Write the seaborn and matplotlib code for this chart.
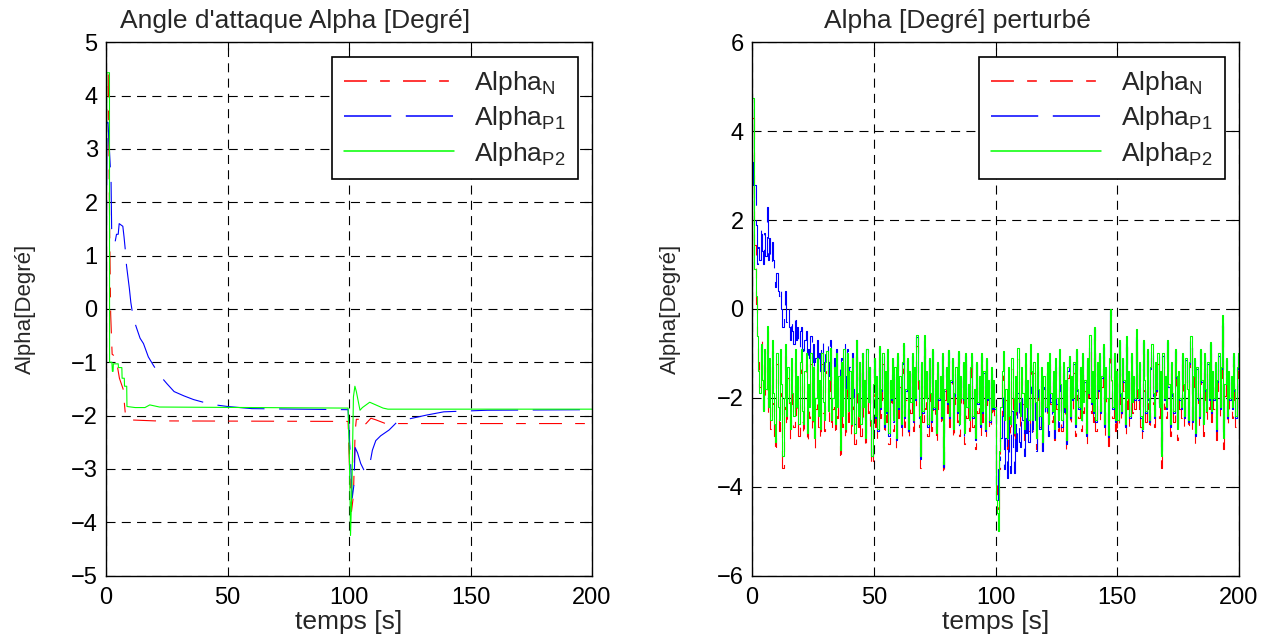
import numpy as np
import pandas as pd
import matplotlib
matplotlib.use("Agg")
import matplotlib.pyplot as plt
import seaborn as sns

# ---- left panel: nominal responses (time [s], alpha [deg]) ----
t_n = [0, 0.3, 0.9, 1.5, 1.9, 2.5, 4.0, 5.5, 7.0, 8.0, 9.0, 20, 99.6, 100.2, 101.0,
       101.8, 102.5, 103.0, 105.0, 105.5, 107.0, 109.0, 111.0, 115.0, 200]
alpha_n = [0, 4.4, 4.4, 1.4, -0.1, -0.85, -0.9, -1.3, -1.5, -2.0, -2.08, -2.1, -2.11, -3.0,
           -3.8, -3.5, -2.3, -2.07, -2.07, -2.2, -2.15, -2.05, -2.08, -2.15, -2.15]

t_p1 = [0, 0.4, 0.8, 2.06, 2.3, 3.7, 4.3, 5.0, 5.4, 6.9, 7.4, 8.0, 8.4, 9.6, 10.2, 11.2,
        12.5, 14.0, 15.4, 17.4, 19.5, 22.2, 25, 28, 32, 36, 40, 45, 50, 60, 99.6, 100.4,
        101.3, 102.0, 102.5, 103.5, 104.8, 106.2, 108.2, 109.6, 111.0, 113.0, 116.5, 120.0,
        126, 132, 139, 157, 200]
alpha_p1 = [0, 3.5, 3.5, 2.39, 1.5, 1.25, 1.4, 1.4, 1.6, 1.55, 1.35, 1.07, 0.82, 0.38, 0.12,
            -0.17, -0.35, -0.55, -0.65, -0.9, -1.06, -1.25, -1.4, -1.55, -1.63, -1.7, -1.75,
            -1.8, -1.83, -1.87, -1.89, -2.65, -3.55, -3.3, -2.6, -2.7, -2.9, -3.03, -3.0,
            -2.65, -2.47, -2.38, -2.27, -2.11, -2.05, -1.99, -1.93, -1.9, -1.89]

t_p2 = [0, 0.3, 1.4, 1.45, 2.4, 2.6, 2.9, 3.0, 5.0, 5.1, 6.5, 6.6, 7.5, 7.6, 8.5, 8.6, 12,
        16, 18, 22, 99.6, 100.2, 100.6, 101.2, 101.8, 102.4, 103.0, 104.5, 105.5, 107.0,
        108.5, 110.0, 112.0, 114.0, 116.0, 200]
alpha_p2 = [0, 4.43, 4.43, -1.0, -1.0, -1.17, -1.17, -1.03, -1.03, -1.1, -1.1, -1.3, -1.3,
            -1.45, -1.45, -1.83, -1.85, -1.85, -1.8, -1.84, -1.86, -2.9, -4.25, -3.3, -1.65,
            -1.45, -1.55, -1.9, -1.85, -1.8, -1.75, -1.78, -1.82, -1.86, -1.88, -1.88]

# ---- right panel: perturbed responses, one sample every 0.5 s (t = 0..200) ----
dt_pert = 0.5

alpha_n_pert = [
    4.3, 4.3, 1.45, 0.1, -0.65, -1.2, -1.75, -0.65, -1.6, -2.4, -0.95, -2.0, -0.5, -2.4, -1.3, -2.7, -0.95, -2.15, -2.85, -3.25,
    -1.25, -2.45, -2.75, -1.15, -1.95, -3.57, -2.25, -1.05, -2.65, -1.55, -2.35, -2.95, -1.35, -2.15, -2.65, -1.15, -2.45, -1.75, -2.85, -1.45,
    -1.15, -2.55, -2.85, -1.65, -1.25, -3.05, -1.95, -2.45, -1.25, -2.75, -1.55, -3.15, -2.25, -1.35, -2.65, -1.85, -2.95, -1.25, -2.35, -2.75,
    -1.45, -1.2, -2.55, -1.85, -1.13, -2.75, -2.25, -1.55, -2.85, -1.25, -2.45, -1.75, -3.42, -1.45, -2.65, -1.15, -2.95, -2.05, -1.25, -2.55,
    -1.65, -2.85, -1.35, -2.25, -3.05, -0.95, -2.15, -2.65, -1.45, -2.85, -1.25, -2.45, -1.85, -3.15, -1.15, -2.35, -1.55, -2.75, -3.55, -1.95,
    -1.35, -2.65, -1.75, -2.95, -1.09, -2.45, -2.05, -1.25, -2.85, -1.65, -2.55, -1.15, -3.05, -1.85, -2.25, -1.35, -2.75, -1.55, -3.15, -1.25,
    -2.45, -1.75, -2.85, -1.45, -1.02, -2.65, -2.05, -1.35, -2.95, -1.65, -2.35, -1.25, -2.75, -1.55, -2.25, -0.83, -1.85, -2.65, -3.57, -1.45,
    -2.55, -0.83, -2.25, -1.65, -2.85, -1.35, -2.15, -2.75, -1.15, -2.45, -1.85, -3.05, -1.45, -2.25, -1.75, -2.65, -1.25, -3.75, -2.05, -1.55,
    -2.35, -1.17, -2.65, -1.85, -1.35, -2.95, -2.15, -1.55, -2.55, -1.2, -2.85, -1.75, -2.25, -1.45, -3.05, -1.25, -2.45, -1.95, -2.75, -1.55,
    -1.25, -2.65, -2.05, -3.15, -1.45, -2.35, -1.75, -2.85, -1.25, -2.55, -1.65, -2.95, -1.35, -2.25, -1.85, -2.75, -1.55, -2.45, -1.85, -2.45,
    -3.9, -4.2, -4.5, -3.6, -2.5, -1.6, -1.2, -2.75, -2.05, -3.15, -1.55, -2.65, -2.85, -1.35, -2.25, -3.05, -1.75, -2.55, -1.12, -2.35,
    -2.65, -1.55, -2.15, -2.95, -1.25, -2.45, -1.85, -2.75, -1.05, -1.65, -2.75, -1.45, -2.35, -3.15, -1.25, -2.05, -2.65, -1.55, -3.25, -1.75,
    -1.75, -2.45, -1.45, -2.85, -1.25, -2.15, -2.55, -1.65, -2.95, -1.35, -2.25, -2.75, -1.15, -1.95, -2.75, -1.45, -2.45, -1.85, -3.2, -1.55,
    -1.32, -2.65, -1.75, -2.25, -1.45, -2.85, -1.15, -2.05, -2.45, -1.55, -2.75, -1.25, -2.35, -1.85, -3.05, -1.35, -2.15, -0.83, -2.35, -1.65,
    -2.55, -0.65, -2.75, -1.45, -2.05, -1.25, -2.55, -1.75, -1.05, -2.85, -1.55, -2.25, -3.08, -1.35, -0.25, -1.85, -2.45, -1.25, -2.75, -1.65,
    -2.75, -0.95, -2.15, -2.55, -1.35, -1.85, -2.85, -0.85, -2.25, -1.65, -2.65, -1.25, -2.35, -1.75, -2.25, -0.7, -2.05, -2.25, -1.45, -2.65,
    -2.95, -0.95, -1.85, -2.55, -1.15, -2.25, -2.75, -1.55, -1.05, -2.15, -2.65, -1.45, -2.05, -1.25, -2.45, -1.65, -3.57, -1.25, -2.25, -1.75,
    -2.45, -0.95, -1.95, -2.85, -1.45, -2.15, -2.55, -1.15, -1.75, -2.95, -1.65, -2.25, -2.45, -1.25, -1.95, -2.65, -1.35, -2.05, -2.75, -1.45,
    -0.85, -2.75, -1.75, -1.35, -3.05, -1.55, -2.25, -2.65, -1.15, -1.85, -2.85, -1.25, -2.05, -2.55, -1.45, -2.25, -1.0, -2.55, -1.65, -2.25,
    -1.45, -2.95, -1.85, -1.25, -2.45, -1.55, -0.38, -3.15, -1.95, -1.35, -2.65, -1.65, -2.25, -1.75, -2.45, -1.25, -2.05, -2.65, -1.55, -1.25,
    -2.05]

alpha_p1_pert = [
    3.3, 2.8, 2.8, 1.9, 1.0, 1.4, 1.1, 1.9, 1.3, 1.0, 1.7, 1.2, 2.3, 1.1, 1.6, 1.0, 1.5, 1.1, 0.8, 0.5,
    0.8, 0.4, 0.3, 0.5, 0.0, -0.4, -0.1, 0.4, -0.3, 0.0, -0.4, -0.7, -0.2, -0.5, -0.8, -0.1, -0.7, -0.4, -0.9, -0.5,
    -0.4, -0.9, -1.1, -0.7, -0.5, -1.2, -0.9, -1.1, -0.6, -1.2, -0.8, -1.4, -1.1, -0.7, -1.3, -1.0, -1.4, -0.7, -1.2, -1.4,
    -1.0, -0.8, -1.5, -1.2, -0.7, -1.6, -1.4, -1.1, -1.7, -0.9, -1.6, -1.3, -2.4, -1.1, -1.8, -0.8, -2.0, -1.5, -0.9, -1.8,
    -1.3, -2.3, -1.0, -1.8, -2.6, -0.7, -1.8, -2.3, -1.2, -2.5, -1.0, -2.2, -1.6, -2.8, -0.9, -2.1, -1.3, -2.5, -3.3, -1.7,
    -1.15, -2.45, -1.55, -2.75, -0.89, -2.25, -1.85, -1.05, -2.65, -1.45, -2.35, -0.95, -2.85, -1.65, -2.05, -1.15, -2.55, -1.35, -2.95, -1.05,
    -2.25, -1.55, -2.65, -1.25, -0.82, -2.45, -1.85, -1.15, -2.75, -1.45, -2.15, -1.05, -2.55, -1.35, -2.05, -0.63, -1.65, -2.45, -3.37, -1.25,
    -2.35, -0.63, -2.05, -1.45, -2.65, -1.15, -1.95, -2.55, -0.95, -2.25, -1.65, -2.85, -1.25, -2.05, -1.55, -2.45, -1.05, -3.55, -1.85, -1.35,
    -2.15, -0.97, -2.45, -1.65, -1.15, -2.75, -1.95, -1.35, -2.35, -1.0, -2.65, -1.55, -2.05, -1.25, -2.85, -1.05, -2.25, -1.75, -2.55, -1.35,
    -1.05, -2.45, -1.85, -2.95, -1.25, -2.15, -1.55, -2.65, -1.05, -2.35, -1.45, -2.75, -1.15, -2.05, -1.65, -2.55, -1.35, -2.25, -1.65, -2.25,
    -4.0, -4.3, -3.6, -3.4, -2.9, -2.4, -1.9, -3.6, -2.9, -3.8, -2.5, -3.5, -3.7, -2.3, -3.1, -3.7, -2.6, -3.2, -1.9, -3.0,
    -3.1, -2.0, -2.5, -3.3, -1.6, -2.8, -2.1, -3.0, -1.3, -1.9, -2.9, -1.6, -2.5, -3.2, -1.4, -2.1, -2.7, -1.6, -3.2, -1.8,
    -1.75, -2.45, -1.45, -2.85, -1.2, -2.1, -2.5, -1.6, -2.9, -1.3, -2.15, -2.65, -1.05, -1.85, -2.65, -1.35, -2.32, -1.72, -3.05, -1.4,
    -1.12, -2.45, -1.55, -2.05, -1.25, -2.65, -0.95, -1.85, -2.25, -1.35, -2.55, -1.05, -2.15, -1.65, -2.85, -1.15, -1.95, -0.63, -2.15, -1.45,
    -2.35, -0.45, -2.55, -1.25, -1.85, -1.05, -2.35, -1.55, -0.85, -2.65, -1.35, -2.05, -2.88, -1.15, -0.05, -1.65, -2.25, -1.05, -2.55, -1.45,
    -2.55, -0.75, -1.95, -2.35, -1.15, -1.65, -2.65, -0.65, -2.05, -1.45, -2.45, -1.05, -2.15, -1.55, -2.05, -0.5, -1.85, -2.05, -1.25, -2.45,
    -2.75, -0.75, -1.65, -2.35, -0.95, -2.05, -2.55, -1.35, -0.85, -1.95, -2.45, -1.25, -1.85, -1.05, -2.25, -1.45, -3.37, -1.05, -2.05, -1.55,
    -2.25, -0.75, -1.75, -2.65, -1.25, -1.95, -2.35, -0.95, -1.55, -2.75, -1.45, -2.05, -2.25, -1.05, -1.75, -2.45, -1.15, -1.85, -2.55, -1.25,
    -0.65, -2.55, -1.55, -1.15, -2.85, -1.35, -2.05, -2.45, -0.95, -1.65, -2.65, -1.05, -1.85, -2.35, -1.25, -2.05, -0.8, -2.35, -1.45, -2.05,
    -1.25, -2.75, -1.65, -1.05, -2.25, -1.35, -0.18, -2.95, -1.75, -1.15, -2.45, -1.45, -2.05, -1.55, -2.25, -1.05, -1.85, -2.45, -1.35, -1.05,
    -1.85]

alpha_p2_pert = [
    4.75, 4.75, 0.9, 0.3, -0.6, -1.4, -1.9, -0.8, -1.6, -2.3, -0.9, -1.8, -0.39, -2.2, -1.1, -2.5, -0.7, -1.9, -2.6, -3.0,
    -1.0, -2.2, -2.5, -0.9, -1.7, -3.32, -2.0, -0.8, -2.4, -1.3, -2.1, -2.7, -1.1, -1.9, -2.4, -0.9, -2.2, -1.5, -2.6, -1.2,
    -0.9, -2.3, -2.6, -1.4, -1.0, -2.8, -1.7, -2.2, -1.0, -2.5, -1.3, -2.9, -2.0, -1.1, -2.4, -1.6, -2.7, -1.0, -2.1, -2.5,
    -1.2, -0.95, -2.3, -1.6, -0.88, -2.5, -2.0, -1.3, -2.6, -1.0, -2.2, -1.5, -3.17, -1.2, -2.4, -0.9, -2.7, -1.8, -1.0, -2.3,
    -1.4, -2.6, -1.1, -2.0, -2.8, -0.7, -1.9, -2.4, -1.2, -2.6, -1.0, -2.2, -1.6, -2.9, -0.9, -2.1, -1.3, -2.5, -3.3, -1.7,
    -1.1, -2.4, -1.5, -2.7, -0.84, -2.2, -1.8, -1.0, -2.6, -1.4, -2.3, -0.9, -2.8, -1.6, -2.0, -1.1, -2.5, -1.3, -2.9, -1.0,
    -2.2, -1.5, -2.6, -1.2, -0.77, -2.4, -1.8, -1.1, -2.7, -1.4, -2.1, -1.0, -2.5, -1.3, -2.0, -0.58, -1.6, -2.4, -3.32, -1.2,
    -2.3, -0.58, -2.0, -1.4, -2.6, -1.1, -1.9, -2.5, -0.9, -2.2, -1.6, -2.8, -1.2, -2.0, -1.5, -2.4, -1.0, -3.5, -1.8, -1.3,
    -2.1, -0.92, -2.4, -1.6, -1.1, -2.7, -1.9, -1.3, -2.3, -0.95, -2.6, -1.5, -2.0, -1.2, -2.8, -1.0, -2.2, -1.7, -2.5, -1.3,
    -1.0, -2.4, -1.8, -2.9, -1.2, -2.1, -1.5, -2.6, -1.0, -2.3, -1.4, -2.7, -1.1, -2.0, -1.6, -2.5, -1.3, -2.2, -1.6, -2.2,
    -4.3, -4.6, -5.0, -3.2, -2.2, -1.4, -0.95, -2.5, -1.8, -2.9, -1.3, -2.4, -2.6, -1.1, -2.0, -2.8, -1.5, -2.3, -0.87, -2.1,
    -2.4, -1.3, -1.9, -2.7, -1.0, -2.2, -1.6, -2.5, -0.8, -1.4, -2.5, -1.2, -2.1, -2.9, -1.0, -1.8, -2.4, -1.3, -3.0, -1.5,
    -1.5, -2.2, -1.2, -2.6, -1.0, -1.9, -2.3, -1.4, -2.7, -1.1, -2.0, -2.5, -0.9, -1.7, -2.5, -1.2, -2.2, -1.6, -2.95, -1.3,
    -1.07, -2.4, -1.5, -2.0, -1.2, -2.6, -0.9, -1.8, -2.2, -1.3, -2.5, -1.0, -2.1, -1.6, -2.8, -1.1, -1.9, -0.58, -2.1, -1.4,
    -2.3, -0.4, -2.5, -1.2, -1.8, -1.0, -2.3, -1.5, -0.8, -2.6, -1.3, -2.0, -2.83, -1.1, 0.0, -1.6, -2.2, -1.0, -2.5, -1.4,
    -2.5, -0.7, -1.9, -2.3, -1.1, -1.6, -2.6, -0.6, -2.0, -1.4, -2.4, -1.0, -2.1, -1.5, -2.0, -0.45, -1.8, -2.0, -1.2, -2.4,
    -2.7, -0.7, -1.6, -2.3, -0.9, -2.0, -2.5, -1.3, -0.8, -1.9, -2.4, -1.2, -1.8, -1.0, -2.2, -1.4, -3.32, -1.0, -2.0, -1.5,
    -2.2, -0.7, -1.7, -2.6, -1.2, -1.9, -2.3, -0.9, -1.5, -2.7, -1.4, -2.0, -2.2, -1.0, -1.7, -2.4, -1.1, -1.8, -2.5, -1.2,
    -0.6, -2.5, -1.5, -1.1, -2.8, -1.3, -2.0, -2.4, -0.9, -1.6, -2.6, -1.0, -1.8, -2.3, -1.2, -2.0, -0.75, -2.3, -1.4, -2.0,
    -1.2, -2.7, -1.6, -1.0, -2.2, -1.3, -0.13, -2.9, -1.7, -1.1, -2.4, -1.4, -2.0, -1.5, -2.2, -1.0, -1.8, -2.4, -1.3, -1.0,
    -1.8]

t_pert = np.arange(len(alpha_p2_pert)) * dt_pert

labels = [r"Alpha$_{\mathrm{N}}$", r"Alpha$_{\mathrm{P1}}$", r"Alpha$_{\mathrm{P2}}$"]
colors = ["#ff0000", "#0000ff", "#00ff00"]
styles = [(0, (16.5, 9.5, 7, 9.5)), (0, (34, 10.5)), "-"]

sns.set_style("white")
plt.rcParams["font.family"] = ["Liberation Sans", "DejaVu Sans"]
plt.rcParams["mathtext.fontset"] = "custom"
plt.rcParams["mathtext.rm"] = "Liberation Sans"
plt.rcParams["mathtext.it"] = "Liberation Sans"
plt.rcParams["lines.scale_dashes"] = False

fig = plt.figure(figsize=(12.84, 6.35), dpi=100)
ax1 = fig.add_axes([0.0826, 0.0937, 0.3785, 0.8396])
ax2 = fig.add_axes([0.5857, 0.0937, 0.3793, 0.8396])

# nominal curves
left = [(t_n, alpha_n), (t_p1, alpha_p1), (t_p2, alpha_p2)]
for (tt, vv), lab, c, ls in zip(left, labels, colors, styles):
    df = pd.DataFrame({"t": tt, "v": vv})
    sns.lineplot(data=df, x="t", y="v", ax=ax1, color=c, linestyle=ls, lw=0.8,
                 label=lab, sort=False, estimator=None)

# perturbed curves (zero-order hold)
right = [alpha_n_pert, alpha_p1_pert, alpha_p2_pert]
for vv, lab, c, ls in zip(right, labels, colors, styles):
    df = pd.DataFrame({"t": t_pert, "v": vv})
    sns.lineplot(data=df, x="t", y="v", ax=ax2, color=c, linestyle=ls, lw=0.8,
                 label=lab, sort=False, estimator=None, drawstyle="steps-post")

ax1.set_ylim(-5, 5)
ax1.set_yticks(np.arange(-5, 6, 1))
ax2.set_ylim(-6, 6)
ax2.set_yticks(np.arange(-6, 7, 2))

titles = ["Angle d'attaque Alpha [Degré]", "Alpha [Degré] perturbé"]
title_x = [0.389, 0.421]
for ax, title, tx in zip([ax1, ax2], titles, title_x):
    ax.set_xlim(0, 200)
    ax.set_xticks(np.arange(0, 201, 50))
    ax.set_axisbelow(True)
    ax.grid(True, color="k", linestyle=(0, (6.5, 4.5)), linewidth=0.8)
    for sp in ax.spines.values():
        sp.set_color("k")
        sp.set_linewidth(1.0)
    ax.tick_params(direction="in", top=True, right=True, length=6, width=0.8,
                   labelsize=17, colors="k")
    ax.tick_params(axis="x", pad=8)
    ax.tick_params(axis="y", pad=6)
    ax.set_title(title, fontsize=19, x=tx, pad=10)
    ax.set_xlabel("temps [s]", fontsize=19, labelpad=1)
    ax.set_ylabel("Alpha[Degré]", fontsize=16)
    ax.yaxis.set_label_coords(-0.145, 0.5)
    leg = ax.legend(loc="upper right", fontsize=19, handlelength=4.2,
                    handletextpad=0.75, labelspacing=0.28, borderpad=0.45,
                    borderaxespad=0.55, fancybox=False, framealpha=1)
    leg.get_frame().set_edgecolor("k")
    leg.get_frame().set_linewidth(1.2)
    for hl, c in zip(leg.get_lines(), colors):
        hl.set_linewidth(1.1)
        hl.set_color(c)

fig.savefig("out.png", dpi=100)
